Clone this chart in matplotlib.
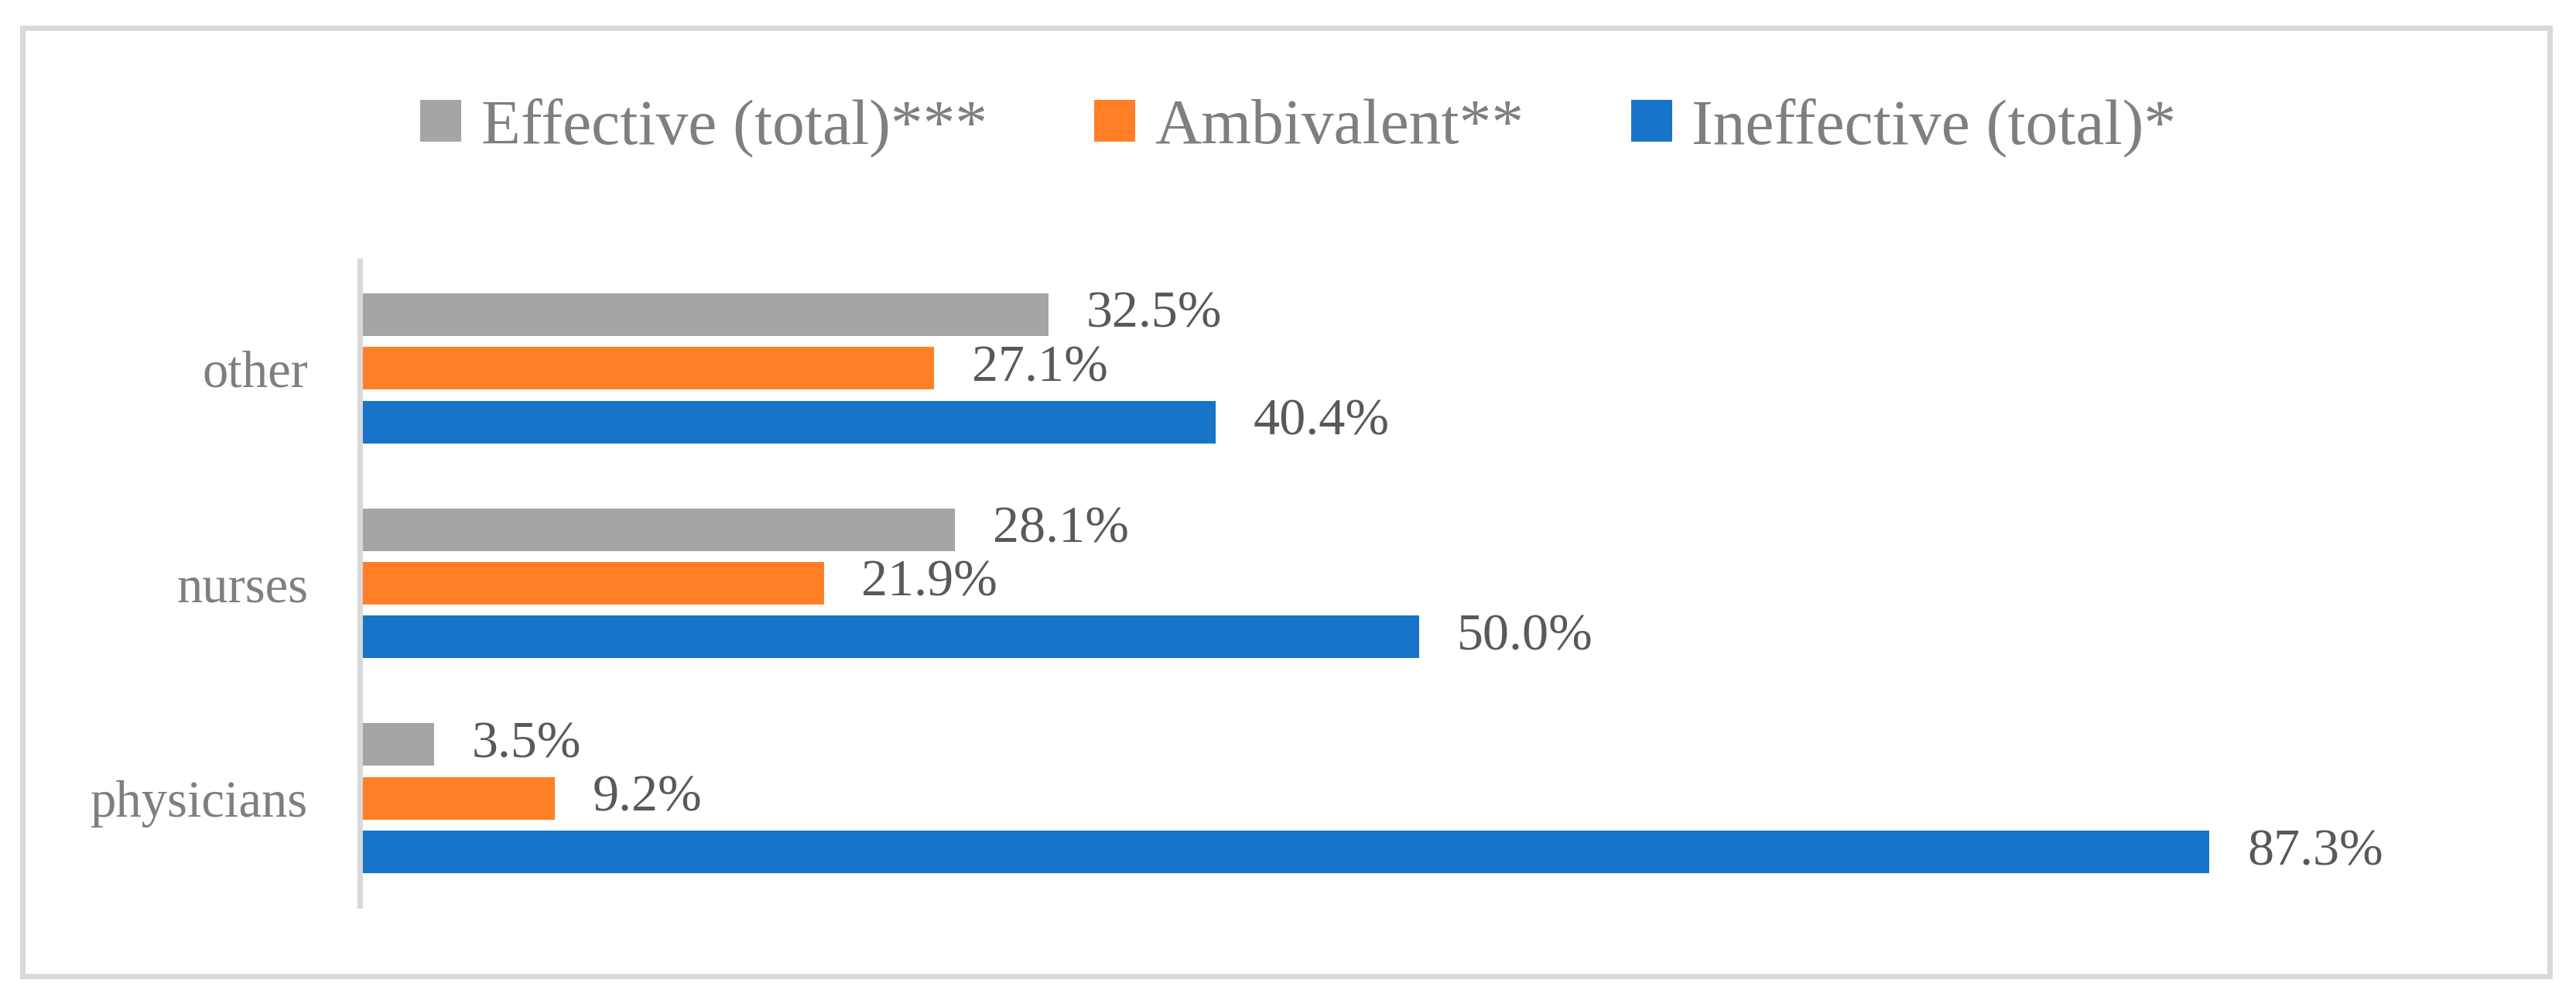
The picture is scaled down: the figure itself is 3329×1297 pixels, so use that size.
import numpy as np
import matplotlib
matplotlib.use("Agg")
import matplotlib.pyplot as plt
from matplotlib.patches import Rectangle

# data (bottom to top)
categories = ["physicians", "nurses", "other"]
effective = [3.5, 28.1, 32.5]
ambivalent = [9.2, 21.9, 27.1]
ineffective = [87.3, 50.0, 40.4]

series_names = ["Effective (total)***", "Ambivalent**", "Ineffective (total)*"]
series_colors = ["#A5A5A5", "#FF7F27", "#1874C9"]

plt.rcParams['font.family'] = ['Liberation Serif', 'DejaVu Serif']

W, H = 3330, 1297
fig = plt.figure(figsize=(W / 100, H / 100), dpi=100)

# axes placed in pixel terms
left, right, top, bottom = 465, 3203, 337, 1170
ax = fig.add_axes([left / W, 1 - bottom / H, (right - left) / W, (bottom - top) / H])

y = np.arange(len(categories))
offsets = [0.25, 0.0, -0.25]
bar_h = 0.198

for vals, name, col, off in zip([effective, ambivalent, ineffective],
                                series_names, series_colors, offsets):
    bars = ax.barh(y + off, vals, height=bar_h, color=col, label=name, zorder=2)
    for b, v in zip(bars, vals):
        ax.annotate(f"{v:.1f}%", (b.get_width(), b.get_y() + b.get_height() / 2),
                    xytext=(35, 0), textcoords="offset points",
                    ha="left", va="center", fontsize=49, color="#595959")

ax.set_xlim(0, 100)
ax.set_ylim(-0.5, 2.5)
ax.set_yticks(y)
ax.set_yticklabels(categories, fontsize=48, color="#7F7F7F")
ax.tick_params(axis="y", length=0, pad=48)
ax.set_xticks([])
for s in ["top", "right", "bottom"]:
    ax.spines[s].set_visible(False)
ax.spines["left"].set_color("#D9D9D9")
ax.spines["left"].set_linewidth(5)

# legend across the top
handles, labels = ax.get_legend_handles_labels()
leg = fig.legend(handles, labels, loc="center", ncol=3,
                 bbox_to_anchor=(1678 / W, 1 - 165 / H),
                 frameon=False, fontsize=60, labelcolor="#7F7F7F",
                 handlelength=0.63, handleheight=0.63,
                 handletextpad=0.31, columnspacing=1.66)

# chart border
fig.patches.append(Rectangle((29 / W, 1 - 1261 / H), (3295 - 29) / W, (1261 - 36) / H,
                             transform=fig.transFigure, fill=False,
                             edgecolor="#D9D9D9", linewidth=5))

fig.savefig("out.png", dpi=100, facecolor="white")
